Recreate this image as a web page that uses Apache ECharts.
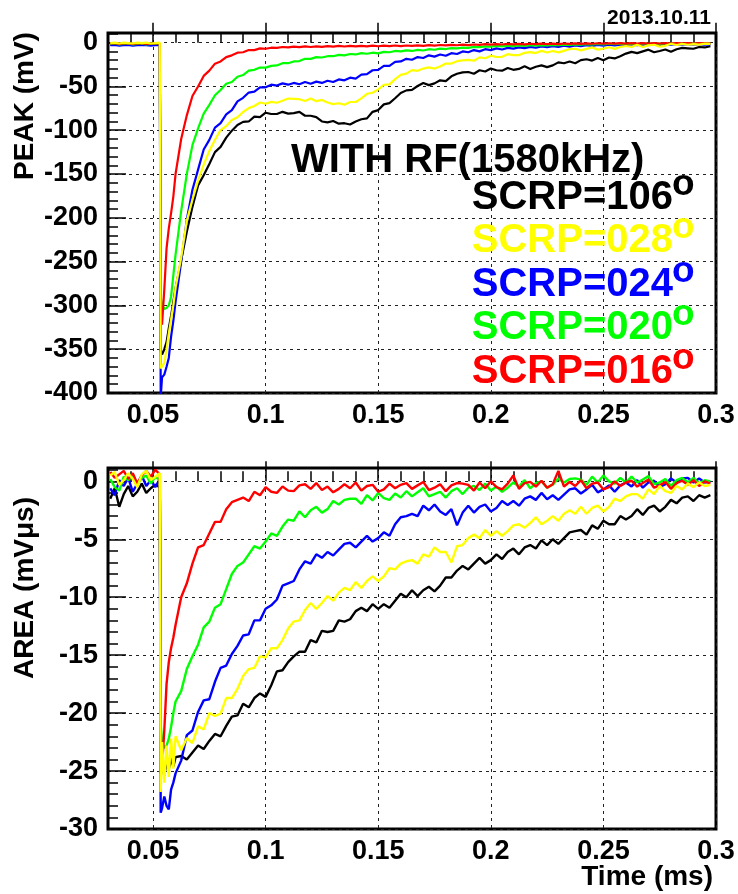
<!DOCTYPE html>
<html><head><meta charset="utf-8">
<script src="https://cdn.jsdelivr.net/npm/echarts@6/dist/echarts.min.js"></script>
<style>html,body{margin:0;padding:0;background:#fff}#c{width:738px;height:894px}</style>
</head><body><div id="c"></div><script>
const time = [0.031,0.033,0.035,0.037,0.039,0.041,0.043,0.045,0.047,0.049,0.051,0.053,
 0.0534,0.054,0.055,0.056,0.057,0.058,0.059,0.060,
 0.0625,0.065,0.0675,0.070,0.0725,0.075,0.0775,0.080,0.0825,0.085,
 0.0875,0.090,0.0925,0.095,0.0975,0.100,0.1025,0.105,0.1075,0.110,
 0.1125,0.115,0.1175,0.120,0.1225,0.125,0.1275,0.130,0.1325,0.135,
 0.1375,0.140,0.1425,0.145,0.1475,0.150,0.1525,0.155,0.1575,0.160,
 0.1625,0.165,0.1675,0.170,0.1725,0.175,0.1775,0.180,0.1825,0.185,
 0.1875,0.190,0.1925,0.195,0.1975,0.200,0.2025,0.205,0.2075,0.210,
 0.2125,0.215,0.2175,0.220,0.2225,0.225,0.2275,0.230,0.2325,0.235,
 0.2375,0.240,0.2425,0.245,0.2475,0.250,0.2525,0.255,0.2575,0.260,
 0.2625,0.265,0.2675,0.270,0.2725,0.275,0.2775,0.280,0.2825,0.285,
 0.2875,0.290,0.2925,0.295,0.2975];

// PEAK (mV)
const peak106 = [-2,-1.5,-2.5,-1.5,-2,-2.5,-1.5,-2,-2.5,-1.5,-2,-2,
 -352,-356,-350,-342,-326,-312,-296,-280,
 -248.5,-216,-187.5,-163,-151.5,-138.5,-125,-119,-108.5,-100.5,
 -94,-90.5,-90,-84.5,-85,-80,-81.5,-81.5,-79,-81,
 -80.5,-79,-83.5,-83.5,-85,-90,-91,-89.5,-92.5,-92,
 -93.5,-90,-87.5,-86.5,-79,-77,-70.5,-69,-63.5,-57.5,
 -54.5,-54,-49.5,-46,-48.5,-46.5,-43,-44,-38.5,-35.5,
 -34,-33.5,-35.5,-31.5,-33,-29.6,-31.5,-32,-29,-31,
 -30,-27,-30,-27.5,-26,-28,-26,-22.5,-23.5,-21.5,
 -23.5,-20,-19,-20.5,-17.5,-20,-17,-18,-15.5,-12.5,
 -10.5,-12,-10,-8,-11,-9.5,-7.8,-10.5,-7.5,-6,
 -6.5,-7,-5,-5.5,-4];
const peak028 = [-0.5,0,-1,0,-0.5,-1,0,-0.5,0,-1,-0.5,0,
 -372,-370,-366,-350,-332,-316,-300,-280,
 -245.4,-203.4,-179.2,-157.6,-139.2,-123.6,-110.8,-99.8,-95.4,-88.2,
 -85.2,-79.2,-74.8,-72.4,-68.4,-69.8,-67.6,-68.6,-66.4,-63.8,
 -64.2,-64.6,-66.6,-63.8,-66.8,-65.4,-68.4,-70.2,-69.2,-70.8,
 -67.8,-67.8,-63.6,-58.4,-57.2,-53.4,-48.2,-47.6,-41.6,-36.8,
 -35.4,-31.4,-32.2,-29.6,-28.2,-29.6,-27.3,-23.8,-23.9,-21.2,
 -20.2,-19.6,-20.6,-16.8,-17.8,-14.9,-16.4,-16.2,-13.2,-14.3,
 -14.2,-11.7,-10.8,-11.9,-9.4,-11.3,-9.6,-11.1,-9.4,-7.3,
 -7,-8.8,-7.1,-5.4,-8,-6.9,-5.2,-7.1,-4.8,-3.8,
 -4.9,-2.4,-5,-3.1,-2.4,-4.6,-3.6,-1.3,-2.7,-1.4,
 -2.4,-1.6,-2.2,-1.2,-1.5];
const peak024 = [-3,-2.5,-3.5,-3,-2.5,-3.5,-3,-2.5,-3,-3.5,-3,-2.5,
 -405,-382,-379,-370,-360,-336,-318,-296,
 -250,-202,-168,-145,-122,-111,-97,-92,-82,-77,
 -67,-63,-57,-56,-51,-51,-48,-49,-46.5,-48,
 -46,-47.5,-45,-47,-44.5,-46,-43.5,-45,-42,-43,
 -40,-41,-36.5,-36,-31.5,-31,-26.5,-26.5,-22,-21.5,
 -18.5,-19.5,-16.5,-17.5,-14.5,-16,-13.5,-15,-12,-13,
 -10,-11,-8.5,-10,-7.5,-8.5,-6.5,-7.8,-6,-6.9,
 -5.4,-6.3,-4.8,-5.8,-4.3,-5.3,-4,-5,-3.5,-4.5,
 -3.3,-4.1,-2.9,-3.8,-2.6,-3.5,-2.4,-3.2,-2.2,-3,
 -2,-2.8,-1.9,-2.7,-1.8,-2.5,-1.7,-2.4,-1.6,-2.3,
 -1.7,-2.3,-1.6,-2.2,-2];
const peak020 = [-1.5,-1,-2,-1.5,-1,-2,-1.5,-1,-2,-1.5,-1,-1.5,
 -290,-300,-304,-303,-300,-290,-266,-242,
 -192,-150,-117,-98,-81,-71,-60,-54,-47,-45,
 -39,-37,-32,-31,-28.5,-28.5,-26.5,-26,-23.5,-23.5,
 -21.5,-21,-18.5,-18.5,-16.5,-17,-15.5,-15.5,-14,-14.5,
 -13,-13.5,-12,-12.7,-11.5,-12.3,-10.5,-11,-9.5,-10,
 -8.8,-9.5,-8.2,-9,-7.5,-8.1,-6.8,-7.3,-6.2,-6.6,
 -5.6,-5.9,-4.8,-5.2,-4.2,-4.5,-3.8,-4.2,-3.5,-3.9,
 -3.2,-3.6,-2.9,-3.4,-2.8,-3.2,-2.6,-3,-2.3,-2.7,
 -2,-2.4,-1.7,-2.1,-1.5,-1.9,-1.3,-1.8,-1.2,-1.7,
 -1.1,-1.6,-1,-1.5,-0.9,-1.4,-0.8,-1.3,-0.8,-1.3,
 -0.8,-1.2,-0.7,-1.2,-1];
const peak016 = [-1,-0.5,-1.5,-1,-0.5,-1.5,-1,-0.5,-1.5,-1,-0.5,-1,
 -300,-322,-282,-235,-212,-195,-176,-150,
 -110,-83,-61,-50,-38,-32,-24,-21.5,-16.5,-14.5,
 -11.5,-11,-8.5,-8.5,-6.5,-7,-5.8,-6,-5,-5.5,
 -4.6,-5.2,-4.3,-5,-4.2,-4.8,-4,-4.6,-3.8,-4.4,
 -3.7,-4.3,-3.6,-4.2,-3.5,-4.1,-3.4,-4,-3.3,-3.9,
 -3.3,-3.8,-3.1,-3.6,-2.9,-3.4,-2.7,-3.2,-2.5,-3,
 -2.3,-2.8,-2.1,-2.6,-1.8,-2.3,-1.6,-2.1,-1.5,-2,
 -1.4,-1.9,-1.3,-1.8,-1.2,-1.7,-1.1,-1.6,-1,-1.5,
 -0.9,-1.4,-0.8,-1.3,-0.7,-1.2,-0.7,-1.2,-0.6,-1.1,
 -0.6,-1.1,-0.5,-1,-0.5,-1,-0.5,-1,-0.4,-0.9,
 -0.5,-1,-0.4,-0.9,-0.8];

// AREA (mV·μs)
const area106 = [-1.5,-0.6,-2.2,-1.1,-0.4,-1.3,-0.9,-0.2,-1.0,-0.6,-0.3,-0.5,
 -25.2,-24.3,-25.4,-24.2,-24.8,-23.9,-24.6,-23.8,
 -23.7,-24,-23.4,-22.8,-23.1,-22.4,-21.8,-22,-21.1,-20.3,
 -20.2,-19.2,-19.5,-18.7,-18.3,-18.6,-17.6,-16.4,-16.3,-15.6,
 -15.1,-14.7,-14.7,-13.7,-13.9,-12.9,-13,-12.9,-12,-12.1,
 -11.9,-11.2,-10.9,-11.2,-10.6,-11,-10.6,-10.9,-10.3,-9.7,
 -10,-9.4,-9.9,-9.4,-9.1,-9.5,-9,-8.3,-8.3,-7.7,
 -7.3,-7.6,-7.1,-6.6,-7.1,-6.8,-6.3,-6.7,-6.1,-5.8,
 -6.3,-5.7,-5.5,-5.8,-5.1,-5.5,-5,-5.4,-4.9,-4.4,
 -4.3,-4.2,-4.6,-3.8,-4.1,-3.4,-3.7,-3.7,-3,-3.3,
 -3,-2.4,-2.9,-2.3,-2.1,-2.6,-2.2,-1.6,-1.9,-1.4,
 -1.3,-1.7,-1.2,-1.4,-1.2];
const area028 = [0.5,0.8,-0.3,0.1,0.7,0.2,-0.5,0.6,0.9,0.1,0.4,0.7,
 -26.8,-22.5,-26,-22.8,-25.5,-22.2,-24.8,-22,
 -23.2,-22.15,-22.6,-21.15,-21.4,-20,-20.25,-20.05,-18.7,-18.7,
 -17.9,-16.8,-16.2,-16.1,-15.1,-15.2,-14.4,-14.4,-13.7,-12.7,
 -12.1,-12,-11.1,-10.5,-11,-10.5,-9.9,-10.3,-9.6,-9.2,
 -9.4,-8.7,-9.2,-8.6,-8.2,-8.6,-8.2,-7.5,-7.6,-7.1,
 -6.9,-6.8,-7.1,-6.3,-6.5,-5.7,-6.1,-6.1,-7.0,-5.6,
 -5.5,-4.9,-4.6,-4.9,-4.2,-4.7,-4.3,-4.7,-4.3,-3.8,
 -3.7,-4,-3.6,-3.1,-3.7,-3.4,-3,-3.4,-2.8,-2.5,
 -2.8,-2.2,-2.8,-2.3,-2.1,-2.6,-2.2,-1.5,-1.7,-1.3,
 -1.1,-1.1,-1.5,-0.7,-1.1,-0.4,-0.85,-1,-0.4,-0.7,
 -0.2,-0.5,-0.1,-0.4,-0.3];
const area024 = [-0.6,-1.2,0.1,-0.4,0.3,-0.9,-0.2,0.5,-0.4,0.1,-0.5,0.2,
 -28.6,-28.2,-27.2,-28,-28.3,-26.6,-26,-25.2,
 -24.1,-21.9,-21.5,-19.9,-18.9,-18.8,-17.3,-16.1,-15.9,-14.9,
 -14.2,-13.3,-13.2,-12,-12,-11,-10.7,-10.2,-9,-8.8,
 -8.6,-7.6,-6.9,-7.1,-6.3,-6.6,-6.1,-6.4,-5.9,-5.4,
 -5.3,-5.7,-5.2,-4.7,-5.2,-4.9,-4.4,-4.7,-3.7,-3.1,
 -3,-2.8,-3,-2.1,-2.5,-2,-2.6,-2.9,-2.4,-3.8,
 -2.7,-2.1,-2.7,-2.2,-2,-2.6,-2.3,-1.7,-2.05,-1.7,
 -2.1,-1.5,-1.3,-1.6,-1,-1.55,-1.2,-1.6,-1.15,-0.7,
 -0.6,-1.05,-0.7,-0.3,-0.95,-0.7,-0.35,-0.9,-0.35,-0.1,
 -0.45,0.1,-0.55,-0.1,0.05,-0.5,-0.25,0.25,-0.1,0.25,
 0.3,-0.1,0.25,-0.1,0];
const area020 = [0.2,-0.5,-0.8,0.4,0.1,0.6,-0.3,0.3,0.5,-0.2,0.4,0.1,
 -21,-22.5,-23,-22.8,-22.2,-21.2,-20,-19,
 -18.1,-16.2,-15.1,-14.1,-12.6,-12.1,-10.9,-10.6,-9.3,-8,
 -7.3,-7,-6.3,-5.6,-5.8,-5.2,-4.5,-4.7,-3.9,-3.3,
 -3.4,-2.6,-3.1,-2.5,-2.2,-2.7,-2.4,-1.7,-2,-1.6,
 -1.5,-1.5,-1.95,-1.2,-1.65,-1,-1.45,-1.6,-1.05,-1.4,
 -0.85,-1.3,-0.95,-0.6,-1.3,-1.1,-0.9,-1.4,-0.85,-0.6,
 -1.1,-0.55,-0.4,-0.75,-0.2,-0.8,-0.45,-0.9,-0.55,-0.1,
 -0.45,0.1,-0.6,-0.15,0,-0.55,-0.3,0.25,-0.1,0.2,
 0.25,0.15,-0.3,0.4,-0.1,0.5,0,-0.2,0.3,-0.1,
 0.4,-0.1,0.15,0.45,-0.25,-0.1,0.2,-0.4,0.1,0.3,
 -0.1,0.3,-0.2,0.1,0];
const area016 = [0.8,0.3,0.6,0.9,0.2,0.7,-0.2,0.5,0.9,0.4,1.0,0.6,
 -22,-24.6,-21.5,-17.5,-15.6,-14.4,-13.5,-12.4,
 -10,-8.8,-7.1,-5.7,-5.5,-4.5,-3.5,-3.5,-2.4,-1.8,
 -1.6,-1.4,-1.7,-0.9,-1.2,-0.5,-0.9,-1,-0.45,-0.8,
 -0.85,-0.35,-0.25,-0.65,-0.15,-0.75,-0.45,-0.95,-0.65,-0.25,
 -0.6,-0.1,-0.8,-0.4,-0.3,-0.9,-0.7,-0.2,-0.6,-0.3,
 -0.15,-0.65,-0.35,-0.05,-0.75,-0.55,-0.25,-0.85,-0.35,-0.15,
 -0.2,-0.3,-0.8,-0.1,-0.6,0,-0.5,-0.7,-0.2,0.5,
 -0.65,-0.15,-0.05,-0.45,0.05,-0.55,-0.25,0.9,-0.45,-0.05,
 -0.4,0.1,-0.6,-0.2,-0.1,-0.7,-0.5,0,-0.4,-0.1,
 0.05,-0.45,-0.15,0.15,-0.55,-0.35,-0.05,-0.65,-0.15,0.05,
 -0.3,0.1,-0.4,0,-0.2];

const xMajorTicks = [0.05,0.1,0.15,0.2,0.25,0.3];
const xMinorTicks = [0.04,0.06,0.07,0.08,0.09,0.11,0.12,0.13,0.14,0.16,0.17,0.18,0.19,0.21,0.22,0.23,0.24,0.26,0.27,0.28,0.29];
const peakMajorTicks = [-400,-350,-300,-250,-200,-150,-100,-50,0];
const peakMinorTicks = [-390,-380,-370,-360,-340,-330,-320,-310,-290,-280,-270,-260,-240,-230,-220,-210,-190,-180,-170,-160,-140,-130,-120,-110,-90,-80,-70,-60,-40,-30,-20,-10,10];
const areaMajorTicks = [-30,-25,-20,-15,-10,-5,0];
const areaMinorTicks = [-29,-28,-27,-26,-24,-23,-22,-21,-19,-18,-17,-16,-14,-13,-12,-11,-9,-8,-7,-6,-4,-3,-2,-1,1];

const legendLabels = ['SCRP=106','SCRP=028','SCRP=024','SCRP=020','SCRP=016'];
const legendColors = ['#000000','#ffff00','#0000ff','#00ff00','#ff0000'];
const headerText = 'WITH RF(1580kHz)';
const dateText = '2013.10.11';

const FONT = '"Liberation Sans", Arial, Helvetica, sans-serif';

function xAxes(g){
  return [{
    type:'value', gridIndex:g, min:0.03, max:0.3, position:'bottom',
    axisLine:{show:false},
    axisTick:{show:true, inside:true, length:20, customValues:xMajorTicks, lineStyle:{color:'#000', width:1.5}},
    axisLabel:{show:true, customValues:xMajorTicks, formatter:v=>String(+(+v).toFixed(2)),
      fontFamily:FONT, fontWeight:'bold', fontSize:27, color:'#000', margin:9},
    splitLine:{show:true, lineStyle:{color:'#222', width:1, type:[3,4]}}
  },{
    type:'value', gridIndex:g, min:0.03, max:0.3, position:'bottom',
    axisLine:{show:false},
    axisTick:{show:true, inside:true, length:10, customValues:xMinorTicks, lineStyle:{color:'#000', width:1.5}},
    axisLabel:{show:false}, splitLine:{show:false}
  }];
}
function yAxes(g, mn, mx, major, minor){
  return [{
    type:'value', gridIndex:g, min:mn, max:mx, position:'left',
    axisLine:{show:false},
    axisTick:{show:true, inside:true, length:18, customValues:major, lineStyle:{color:'#000', width:1.5}},
    axisLabel:{show:true, customValues:major, fontFamily:FONT, fontWeight:'bold', fontSize:27, color:'#000', margin:10},
    splitLine:{show:true, lineStyle:{color:'#222', width:1, type:[3,4]}}
  },{
    type:'value', gridIndex:g, min:mn, max:mx, position:'left',
    axisLine:{show:false},
    axisTick:{show:true, inside:true, length:10, customValues:minor, lineStyle:{color:'#000', width:1.5}},
    axisLabel:{show:false}, splitLine:{show:false}
  }];
}

const order = [
  {c:legendColors[0], p:peak106, a:area106},
  {c:legendColors[2], p:peak024, a:area024},
  {c:legendColors[3], p:peak020, a:area020},
  {c:legendColors[4], p:peak016, a:area016},
  {c:legendColors[1], p:peak028, a:area028}
];
const series = [];
order.forEach(s=>{
  series.push({type:'line', xAxisIndex:0, yAxisIndex:0, data:time.map((t,i)=>[t,s.p[i]]),
    showSymbol:false, symbol:'none', lineStyle:{color:s.c, width:2.2}, itemStyle:{color:s.c}, clip:true, silent:true});
  series.push({type:'line', xAxisIndex:2, yAxisIndex:2, data:time.map((t,i)=>[t,s.a[i]]),
    showSymbol:false, symbol:'none', lineStyle:{color:s.c, width:2.4}, itemStyle:{color:s.c}, clip:true, silent:true});
});

function txt(x,y,text,size,color,align,vAlign,rot){
  return {type:'text', x:x, y:y, rotation:rot||0, z:100,
    style:{text:text, fill:color, font:'bold '+size+'px '+FONT,
      align:align, verticalAlign:vAlign, textAlign:align, textVerticalAlign:vAlign}};
}
const graphics = [
  txt(711,18,dateText,21,'#000','right','middle'),
  txt(25,106,'PEAK (mV)',28,'#000','center','middle',Math.PI/2),
  txt(25,588,'AREA (mV\u03bcs)',28,'#000','center','middle',Math.PI/2),
  txt(713,877,'Time (ms)',28,'#000','right','middle'),
  txt(291,161,headerText,40,'#000','left','middle')
];
const lineY = [197.5,241,284.5,328,372];
legendLabels.forEach((l,i)=>{
  graphics.push(txt(673,lineY[i],l,40,legendColors[i],'right','middle'));
  graphics.push(txt(672,lineY[i]-13,'o',37,legendColors[i],'left','middle'));
});

const chart = echarts.init(document.getElementById('c'), null, {renderer:'canvas'});
chart.setOption({
  animation:false,
  backgroundColor:'#fff',
  grid:[
    {left:108, top:33, width:608, height:360, show:true, borderColor:'#000', borderWidth:3, backgroundColor:'rgba(0,0,0,0)'},
    {left:108, top:468, width:608, height:361, show:true, borderColor:'#000', borderWidth:3, backgroundColor:'rgba(0,0,0,0)'}
  ],
  xAxis: xAxes(0).concat(xAxes(1)),
  yAxis: yAxes(0,-400,11,peakMajorTicks,peakMinorTicks).concat(yAxes(1,-30,1.15,areaMajorTicks,areaMinorTicks)),
  series: series,
  graphic: graphics
});
</script></body></html>
